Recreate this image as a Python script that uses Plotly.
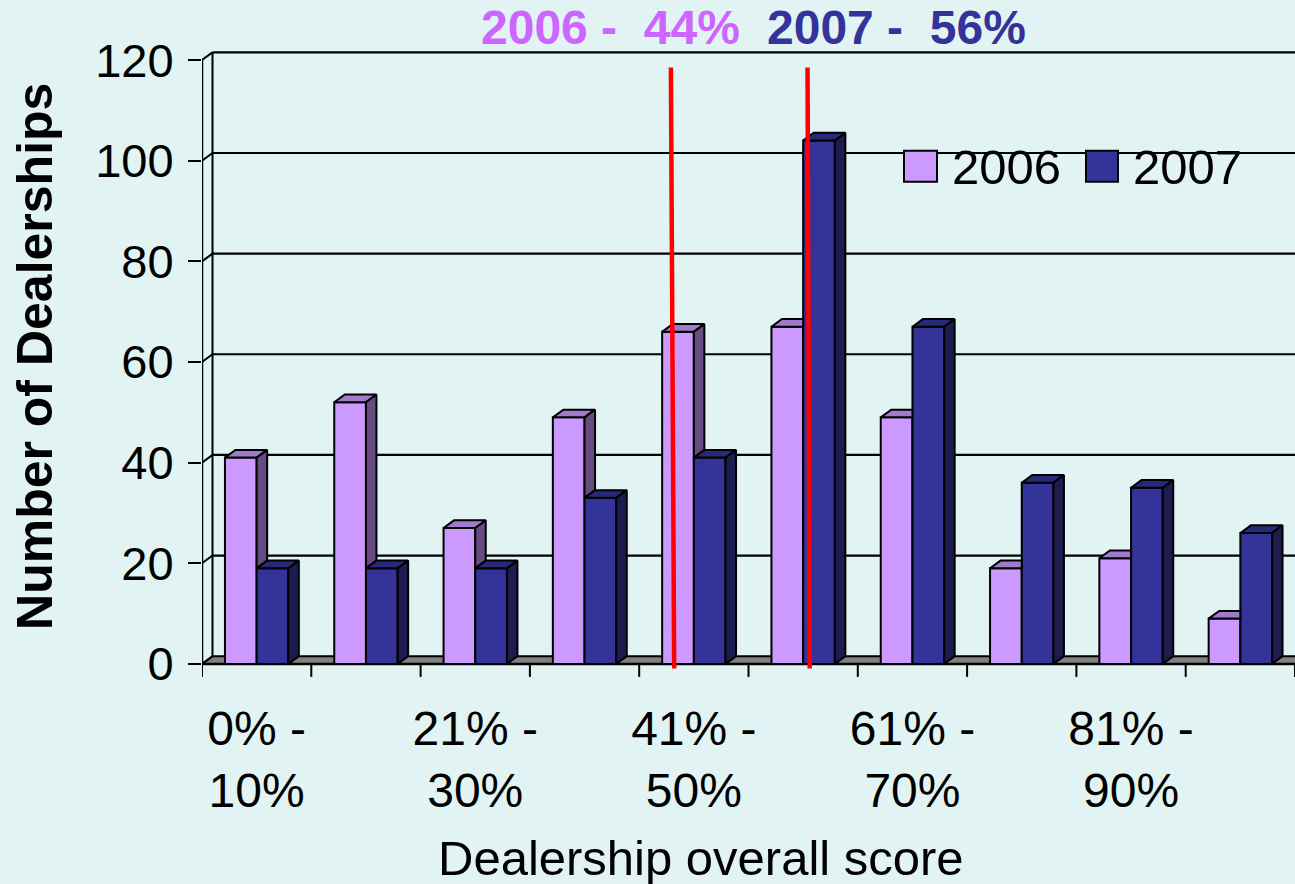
import plotly.graph_objects as go

# ---------------- data ----------------
categories = ["0% - 10%", "11% - 20%", "21% - 30%", "31% - 40%", "41% - 50%",
              "51% - 60%", "61% - 70%", "71% - 80%", "81% - 90%", "91% - 100%"]
dealers_2006 = [41, 52, 27, 49, 66, 67, 49, 19, 21, 9]
dealers_2007 = [19, 19, 19, 33, 41, 104, 67, 36, 35, 26]
series_names = ["2006", "2007"]
y_ticks = [0, 20, 40, 60, 80, 100, 120]
x_tick_idx = [0, 2, 4, 6, 8]
x_tick_text = ["0% -<br>10%", "21% -<br>30%", "41% -<br>50%", "61% -<br>70%", "81% -<br>90%"]
mean_labels = ["2006 -\u00a0 44%", "2007 -\u00a0 56%"]
mean_line_top_x = [3.79, 5.04]      # category-axis position of the average markers
mean_line_bottom_x = [3.82, 5.06]

# ---------------- style / geometry ----------------
W, H = 1295, 884
BG = "#E2F3F3"
FRONT = ["#CC99FF", "#333399"]
TOP = ["#A07ACC", "#29297A"]
SIDE = ["#664C80", "#1C1C4F"]
TITLE_COL = ["#CC66FF", "#333399"]
FONT = "Liberation Sans, Arial, sans-serif"

XMIN, XMAX = -0.5, len(categories) - 0.5
YMIN, YMAX = -3, 122
M_L, M_R = 202, 0
PX_PER_Y = 5.025
M_T = 663.5 - YMAX * PX_PER_Y
M_B = H - (663.5 - YMIN * PX_PER_Y)
PLOT_W = W - M_L - M_R
PLOT_H = H - M_T - M_B
PX_PER_X = PLOT_W / (XMAX - XMIN)

DX = 10.5 / PX_PER_X      # depth offset in category units
DY = 7.7 / PX_PER_Y       # depth offset in value units
BAR_W = 0.29


def px_x(p):
    return (p - M_L) / PLOT_W


def px_y(p):
    return (H - M_B - p) / PLOT_H


fig = go.Figure()

# front faces
fig.add_trace(go.Bar(x=list(range(len(categories))), y=dealers_2006, width=BAR_W, offset=-BAR_W,
                     marker=dict(color=FRONT[0], line=dict(color="black", width=2)),
                     name=series_names[0], showlegend=False, hoverinfo="skip"))
fig.add_trace(go.Bar(x=list(range(len(categories))), y=dealers_2007, width=BAR_W, offset=0,
                     marker=dict(color=FRONT[1], line=dict(color="black", width=2)),
                     name=series_names[1], showlegend=False, hoverinfo="skip"))

# 3-D top and side faces
top6x, top6y, side6x, side6y = [], [], [], []
top7x, top7y, side7x, side7y = [], [], [], []
for i, (v6, v7) in enumerate(zip(dealers_2006, dealers_2007)):
    xl, xr = i - BAR_W, i
    if v6 >= v7:
        top6x += [xl, xr, xr + DX, xl + DX, xl, None]
        top6y += [v6, v6, v6 + DY, v6 + DY, v6, None]
        side6x += [xr, xr + DX, xr + DX, xr, xr, None]
        side6y += [v7, v7 + DY, v6 + DY, v6, v7, None]
    else:
        top6x += [xl, xr, xr, xl + DX, xl, None]
        top6y += [v6, v6, v6 + DY, v6 + DY, v6, None]
    xl, xr = i, i + BAR_W
    top7x += [xl, xr, xr + DX, xl + DX, xl, None]
    top7y += [v7, v7, v7 + DY, v7 + DY, v7, None]
    side7x += [xr, xr + DX, xr + DX, xr, xr, None]
    side7y += [0, DY, v7 + DY, v7, 0, None]

for xs, ys, col in [(top6x, top6y, TOP[0]), (side6x, side6y, SIDE[0]),
                    (top7x, top7y, TOP[1]), (side7x, side7y, SIDE[1])]:
    fig.add_trace(go.Scatter(x=xs, y=ys, mode="lines", fill="toself", fillcolor=col,
                             line=dict(color="black", width=2), showlegend=False,
                             hoverinfo="skip"))

shapes = []
# floor
shapes.append(dict(type="path", xref="x", yref="y", layer="below",
                   path=f"M{XMIN},0 L{XMAX},0 L{XMAX + DX},{DY} L{XMIN + DX},{DY} Z",
                   fillcolor="#808080", line=dict(color="black", width=2)))
# back-wall gridlines and left wall
for v in y_ticks:
    if v > 0:
        shapes.append(dict(type="line", xref="x", yref="y", layer="below",
                           x0=XMIN + DX, x1=XMAX + DX, y0=v + DY, y1=v + DY,
                           line=dict(color="black", width=2.2)))
    shapes.append(dict(type="line", xref="x", yref="y", layer="below",
                       x0=XMIN, x1=XMIN + DX, y0=v, y1=v + DY,
                       line=dict(color="black", width=2)))
shapes.append(dict(type="line", xref="x", yref="y", layer="below",
                   x0=XMIN, x1=XMIN, y0=0, y1=y_ticks[-1], line=dict(color="black", width=2.5)))
shapes.append(dict(type="line", xref="x", yref="y", layer="below",
                   x0=XMIN + DX, x1=XMIN + DX, y0=DY, y1=y_ticks[-1] + DY,
                   line=dict(color="black", width=2)))
# category boundary ticks
for b in range(len(categories) + 1):
    shapes.append(dict(type="line", xref="x", yref="y", layer="below",
                       x0=b - 0.5, x1=b - 0.5, y0=0, y1=-13 / PX_PER_Y,
                       line=dict(color="black", width=2)))
shapes.append(dict(type="line", xref="x", yref="y", layer="below",
                   x0=XMIN, x1=XMAX, y0=0, y1=0, line=dict(color="black", width=2.5)))
# legend background (hides gridline)
shapes.append(dict(type="rect", xref="paper", yref="paper", layer="below",
                   x0=px_x(888), x1=px_x(1258), y0=px_y(195), y1=px_y(140),
                   fillcolor=BG, line=dict(width=0)))
# average markers
for xt, xb in zip(mean_line_top_x, mean_line_bottom_x):
    shapes.append(dict(type="line", xref="x", yref="y", layer="above",
                       x0=xt, x1=xb, y0=118.5, y1=-0.9,
                       line=dict(color="#FF0000", width=4.5)))
# legend swatches
leg_sw = [(904, 937), (1086, 1118)]
for (a, b), col in zip(leg_sw, FRONT):
    shapes.append(dict(type="rect", xref="paper", yref="paper", layer="above",
                       x0=px_x(a), x1=px_x(b), y0=px_y(182), y1=px_y(151),
                       fillcolor=col, line=dict(color="black", width=2)))

annotations = []
leg_txt_x = [950, 1131]
for x0, name in zip(leg_txt_x, series_names):
    annotations.append(dict(x=px_x(x0), y=px_y(167), xref="paper", yref="paper",
                            xanchor="left", yanchor="middle", showarrow=False, text=name,
                            font=dict(family=FONT, size=49, color="black")))
for x0, txt, col in zip([479, 765], mean_labels, TITLE_COL):
    annotations.append(dict(x=px_x(x0), y=px_y(28), xref="paper", yref="paper",
                            xanchor="left", yanchor="middle", showarrow=False,
                            text=f"<b>{txt}</b>",
                            font=dict(family=FONT, size=48, color=col)))
annotations.append(dict(x=px_x(701), y=px_y(857), xref="paper", yref="paper",
                        xanchor="center", yanchor="middle", showarrow=False,
                        text="Dealership overall score",
                        font=dict(family=FONT, size=49, color="black")))
annotations.append(dict(x=px_x(35), y=px_y(357), xref="paper", yref="paper",
                        xanchor="center", yanchor="middle", showarrow=False, textangle=-90,
                        text="<b>Number of Dealerships</b>",
                        font=dict(family=FONT, size=50, color="black")))

fig.update_layout(
    width=W, height=H,
    margin=dict(l=M_L, r=M_R, t=M_T, b=M_B, pad=0),
    paper_bgcolor=BG, plot_bgcolor=BG,
    barmode="overlay", showlegend=False,
    shapes=shapes, annotations=annotations,
    xaxis=dict(range=[XMIN, XMAX], tickvals=x_tick_idx, ticktext=x_tick_text,
               ticks="", showgrid=False, zeroline=False, showline=False,
               ticklabelstandoff=17,
               tickfont=dict(family=FONT, size=48, color="black")),
    yaxis=dict(range=[YMIN, YMAX], tickvals=y_ticks, ticks="outside", ticklen=13,
               tickwidth=2, tickcolor="black", showgrid=False, zeroline=False,
               showline=False, ticklabelstandoff=5,
               tickfont=dict(family=FONT, size=47, color="black")),
)

fig.write_html("out.html", config={"displayModeBar": False},
               post_script="document.body.style.margin='0';")
